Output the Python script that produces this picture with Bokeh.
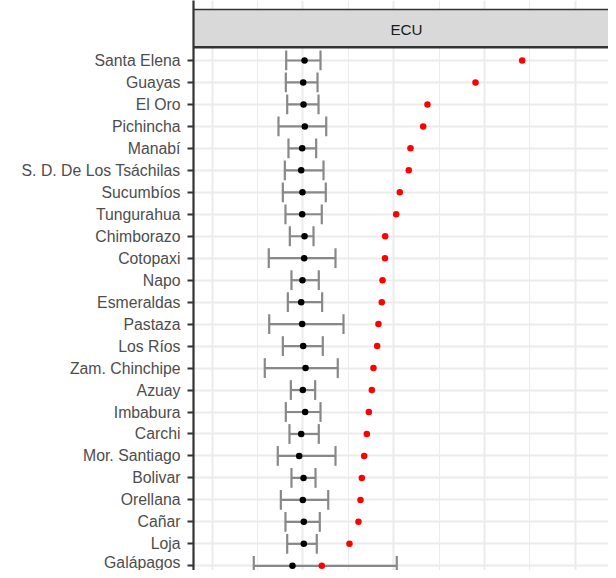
from bokeh.plotting import figure
from bokeh.models import Range1d, FixedTicker, ColumnDataSource, Span, Label
from bokeh.embed import file_html
from bokeh.resources import INLINE

provinces = ["Santa Elena", "Guayas", "El Oro", "Pichincha", "Manabí",
             "S. D. De Los Tsáchilas", "Sucumbíos", "Tungurahua", "Chimborazo",
             "Cotopaxi", "Napo", "Esmeraldas", "Pastaza", "Los Ríos",
             "Zam. Chinchipe", "Azuay", "Imbabura", "Carchi", "Mor. Santiago",
             "Bolivar", "Orellana", "Cañar", "Loja", "Galápagos"]
estimate = [0.017, 0.002, 0.006, 0.020, -0.009, -0.020, -0.006, -0.009, 0.017,
            0.013, -0.006, -0.020, -0.009, 0.002, 0.028, -0.002, 0.024, -0.020,
            -0.042, 0.006, -0.002, 0.009, 0.009, -0.116]
lower = [-0.185, -0.189, -0.174, -0.270, -0.160, -0.200, -0.222, -0.193, -0.145,
         -0.377, -0.127, -0.167, -0.372, -0.222, -0.421, -0.134, -0.189, -0.149,
         -0.278, -0.127, -0.244, -0.193, -0.174, -0.542]
upper = [0.193, 0.160, 0.171, 0.256, 0.145, 0.226, 0.251, 0.207, 0.116,
         0.358, 0.174, 0.211, 0.446, 0.218, 0.383, 0.134, 0.193, 0.174,
         0.358, 0.138, 0.278, 0.185, 0.152, 1.033]
observed = [2.414, 1.900, 1.371, 1.324, 1.184, 1.165, 1.066, 1.026, 0.905,
            0.903, 0.876, 0.868, 0.831, 0.817, 0.776, 0.758, 0.725, 0.703,
            0.674, 0.648, 0.633, 0.611, 0.512, 0.207]
facet_label = "ECU"
major_x = [-1, 0, 1, 2, 3]
minor_x = [-0.5, 0.5, 1.5, 2.5, 3.5]

n = len(provinces)
pos = [n - i for i in range(n)]
half = 0.45
src = ColumnDataSource(dict(
    pos=pos, est=estimate, lo=lower, hi=upper, obs=observed,
    cap_b=[v - half for v in pos], cap_t=[v + half for v in pos]))

x0, x1 = -1.206, 3.365
y0, y1 = 0.786, 26.73
panel_top = n + 0.6
strip_top = 26.32

p = figure(width=608, height=570, output_backend="svg", toolbar_location=None,
           x_range=Range1d(x0, x1), y_range=Range1d(y0, y1),
           x_axis_location=None, min_border_left=193, min_border_right=0,
           min_border_top=0, min_border_bottom=0)
p.outline_line_color = None
p.background_fill_color = "white"
p.border_fill_color = "white"

# grid
p.xgrid.ticker = FixedTicker(ticks=major_x, minor_ticks=minor_x)
p.xgrid.grid_line_color = "#EBEBEB"
p.xgrid.grid_line_width = 2
p.xgrid.minor_grid_line_color = "#EBEBEB"
p.xgrid.minor_grid_line_width = 1
p.ygrid.ticker = FixedTicker(ticks=pos)
p.ygrid.grid_line_color = "#EBEBEB"
p.ygrid.grid_line_width = 2

# y axis
yax = p.yaxis[0]
yax.ticker = FixedTicker(ticks=pos)
yax.major_label_overrides = {v: name for v, name in zip(pos, provinces)}
yax.major_label_text_font = "Liberation Sans"
yax.major_label_text_font_size = "15.8px"
yax.major_label_text_color = "#4D4D4D"
yax.major_tick_out = 6
yax.major_tick_in = 0
yax.minor_tick_line_color = None
yax.major_tick_line_color = "#333333"
yax.major_tick_line_width = 2
yax.axis_line_color = "#333333"
yax.axis_line_width = 2.2
yax.major_label_standoff = 7

# error bars
p.segment(x0="lo", y0="pos", x1="hi", y1="pos", source=src,
          line_color="#888888", line_width=2.2)
p.segment(x0="lo", y0="cap_b", x1="lo", y1="cap_t", source=src,
          line_color="#888888", line_width=2.2)
p.segment(x0="hi", y0="cap_b", x1="hi", y1="cap_t", source=src,
          line_color="#888888", line_width=2.2)
p.scatter(x="est", y="pos", source=src, size=6.5, fill_color="black",
          line_color=None)
p.scatter(x="obs", y="pos", source=src, size=6.5, fill_color="#FF0000",
          line_color=None)

# facet strip
p.quad(left=[x0 - 0.1], right=[x1 + 0.3], bottom=[panel_top], top=[strip_top],
       fill_color="#D9D9D9", line_color="#333333", line_width=1.6)
p.add_layout(Span(location=panel_top, dimension="width",
                  line_color="#333333", line_width=2.5))
p.add_layout(Label(x=1.14, y=25.43, text=facet_label, text_align="center",
                   text_baseline="middle", text_font="Liberation Sans",
                   text_font_size="15.2px", text_color="#1A1A1A"))

open("out.html", "w").write(file_html(p, INLINE))
